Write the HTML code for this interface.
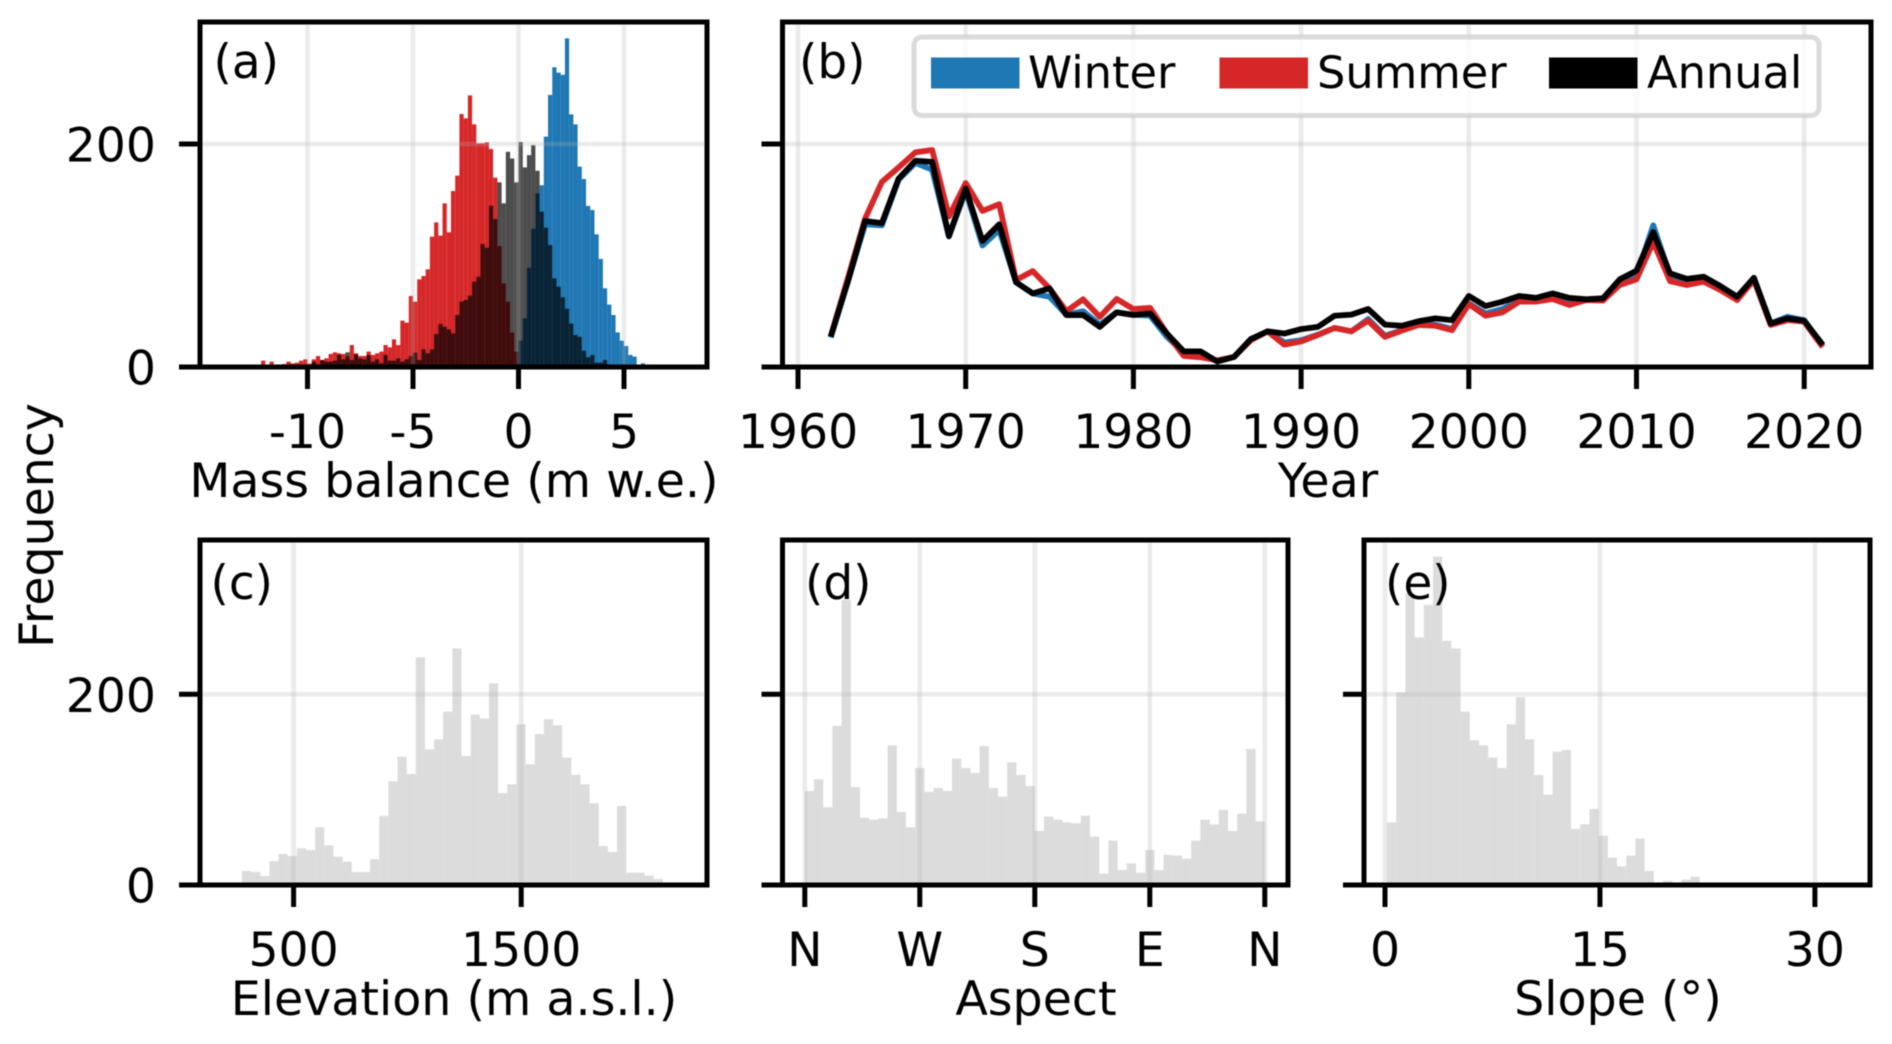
<!DOCTYPE html>
<html lang="en">
<head>
<meta charset="utf-8">
<title>Mass balance and glacier attribute distributions</title>
<style>
html,body{margin:0;padding:0;background:#fff;}
#figure{display:block;width:1892px;height:1044px;background:#fff;filter:blur(0.55px);}
text{font-family:"DejaVu Sans","Liberation Sans",sans-serif;fill:#000;}
</style>
</head>
<body>
<svg id="figure" xmlns="http://www.w3.org/2000/svg" width="1892" height="1044" viewBox="0 0 1892 1044">
<defs>
<clipPath id="clip-a"><rect x="200" y="22" width="507" height="345"/></clipPath>
<clipPath id="clip-b"><rect x="782.5" y="22" width="1088.5" height="345"/></clipPath>
<clipPath id="clip-c"><rect x="200" y="540" width="507" height="345"/></clipPath>
<clipPath id="clip-d"><rect x="782.5" y="540" width="505.5" height="345"/></clipPath>
<clipPath id="clip-e"><rect x="1364" y="540" width="506" height="345"/></clipPath>
</defs>
<g id="layer"></g>
</svg>
<script>
// ---- Panel (a): mass balance histograms, bins of 0.2 m w.e.
const massBinWidth = 0.2;
const winterFirstEdge = -1.4;
const winterCounts = [4.8,4.8,4.8,4.8,1.5,5.7,2,23.6,43.6,89,124,155.8,163,206.6,244,268.8,264,262,294.8,226.6,217.6,179.7,168.6,144.4,140.8,119,96.9,70.6,56,46.6,31,23.6,18.8,10.8,9.3,1.8,3.3];
const summerFirstEdge = -12.2;
const summerCounts = [5.7,1,4.8,1,1,2.7,4.8,3.3,3.9,5.7,6.9,3,6.9,9.9,6.3,7.8,11.7,13.2,12.3,11.7,9.3,19.7,12.3,9.9,9.9,13.8,10.8,12.3,13.8,19.7,17.6,24.8,19.7,41.6,39.8,63.7,58.6,78.6,81.6,87.6,116.9,129.7,117.8,146.8,120.8,157.8,171.6,226.9,223,243.6,217.6,200.6,200.6,201.5,195.5,169.8,108.5,75,58.6,30.8,13.8];
const annualFirstEdge = -9.8;
const annualCounts = [4.8,2.4,6.3,4.8,4.8,5.7,10.8,6.9,13.2,6.3,11.4,7.8,6.9,10.8,4.8,6.9,3.3,10.8,5.7,5.7,7.8,4.8,6.9,9.9,12.9,6.3,15.8,12.3,15.8,29.6,38.6,36.2,33.8,30.2,46.6,58.6,60.1,64,76.5,81,110.3,107,144.7,132.7,165.6,146.8,193,187,165.6,201.8,179,190,199,176,139.3,125,109.4,79.5,72,62.5,52.3,39,28.7,27,14.6,8.7,10.8,3.9,3.9,6.3,2.4];
const massTicks = [-10,-5,0,5];

// ---- Panel (b): glacier counts per year
const firstYear = 1962;
const winterByYear = [29,78,128,127,168,183,177,117,158,109,123,76,66,63,47,50,38,49,47,46,27,13,12,5,9,25,32,22,24,29,35,32,43,28,33,38,38,34,57,48,52,60,59,63,58,60,60,76,82,127,82,77,79,71,61,79,39,45,42,21];
const summerByYear = [30,81,133,166,179,192.5,194.6,135,165,140,146,78,86,70.5,50,60.7,45,61,52,53,30,10,8.7,6,9,24,32,20,23,28.7,35,32,41.5,27,32.6,37.7,37,33,56.5,46,49,58.6,58.6,61,55.6,60,59.5,73.5,78.6,112,77,73.5,76.5,69,60,78,37.7,42,40.7,20];
const annualByYear = [29.6,78,131,129,169,185,184,117.5,160,113,128,76,66,70.5,46.6,46.6,36,49,46.6,48,30,14,14,5,9,25,32,30,34,36,46,47,52,38,37,41,43.6,42,63.7,54.7,58.6,63.7,62,66,62,60.7,61.6,78.6,86.4,121,84,79,81,72.6,63,80,39,43.6,41.5,22];
const yearTicks = [1960,1970,1980,1990,2000,2010,2020];
const legendLabels = ['Winter','Summer','Annual'];

// ---- Panel (c): elevation histogram
const elevationFirstEdge = 273;
const elevationBinWidth = 40.2;
const elevationCounts = [14.7,13.6,9.4,25,32.5,30.4,38.5,36.7,60.5,41.6,29.7,24.5,13.6,13.6,27,72.4,108.7,134.6,116.4,238.8,142.3,152.8,181.8,248,135.3,178.7,174.5,211.5,96.5,105.6,168.5,126.6,158.4,173.8,167.5,133.6,115.4,105.6,85.7,40.9,34.6,82.9,13,13,9.8,6.3];
const elevationTicks = [500,1500];

// ---- Panel (d): aspect histogram
const aspectBinWidth = 7.2;
const aspectCounts = [98.6,110.8,81.5,166.8,299,102.8,70.6,68.5,69.9,146.5,76.6,60.5,122.7,97.6,101.7,98.6,132.5,122.7,117.5,145.8,101.7,92.7,128.7,115.4,103.8,56.6,71.7,68.5,65.7,64.7,72.7,50.7,11.9,46.5,15.7,22.7,12.9,36.7,15.7,31.5,30.8,27.6,46.5,68.5,63.6,78.7,56.6,74.8,142.7,66.8];
const aspectTicks = [0,90,180,270,360];
const aspectTickLabels = ['N','W','S','E','N'];

// ---- Panel (e): slope histogram
const slopeFirstEdge = 0.14;
const slopeBinWidth = 0.642;
const slopeCounts = [65.7,201.7,306,259.8,293.7,344.4,256,248,181.8,151.7,146.5,133.6,122.7,168.5,196.9,152.8,115.4,94.8,139.9,141.6,58.7,63.6,79.7,51.7,28.7,19.6,30.8,48.6,14.7,1,4.5,1.7,5.6,8.7,0.7,1];
const slopeTicks = [0,15,30];

const frequencyTicksTop = [0,200];
const frequencyTicksBottom = [0,200];

// ---- Axis functions
const xMass = v => 518.5 + 21.1 * v;
const xYear = v => 798 + 16.77 * (v - 1960);
const xElevation = v => 293.6 + 0.2276 * (v - 500);
const xAspect = v => 804.8 + (460 / 360) * v;
const xSlope = v => 1385 + 14.33 * v;
const yTop = v => 367 - 1.115 * v;
const yBottom = v => 885 - 0.9535 * v;

const SVG_NS = 'http://www.w3.org/2000/svg';
const layer = document.getElementById('layer');

function mk(tag, attrs, parent) {
  const node = document.createElementNS(SVG_NS, tag);
  for (const key in attrs) node.setAttribute(key, attrs[key]);
  parent.appendChild(node);
  return node;
}

function drawText(parent, str, x, y, size, anchor, label) {
  const el = mk('text', {x: x, y: y, 'font-size': size, 'text-anchor': anchor}, parent);
  
  
  el.textContent = str;
  return el;
}

function drawBars(parent, counts, firstEdge, binWidth, xs, ys, fill, alpha, label) {
  const group = mk('g', {fill: fill, 'fill-opacity': alpha}, parent);
  
  
  counts.forEach((count, i) => {
    const x0 = xs(firstEdge + i * binWidth);
    const x1 = xs(firstEdge + (i + 1) * binWidth);
    const bar = mk('rect', {x: x0, y: ys(count), width: x1 - x0, height: ys(0) - ys(count)}, group);
    
    
  });
}

function drawGrid(parent, xValues, yValue, xs, ys, box) {
  const group = mk('g', {stroke: '#b0b0b0', 'stroke-opacity': 0.25, 'stroke-width': 4.6, fill: 'none'}, parent);
  
  
  xValues.forEach(v => {
    const line = mk('line', {x1: xs(v), x2: xs(v), y1: box.top + 3, y2: box.bottom - 3}, group);
    
    
  });
  const h = mk('line', {x1: box.left + 3, x2: box.right - 3, y1: ys(yValue), y2: ys(yValue)}, group);
  
  
}

function drawFrame(parent, box, xValues, xLabels, xs, yValues, yLabels, ys, panel) {
  const group = mk('g', {stroke: '#000', 'stroke-width': 5, fill: 'none'}, parent);
  
  
  const spine = mk('rect', {x: box.left, y: box.top, width: box.right - box.left, height: box.bottom - box.top, 'stroke-linejoin': 'miter'}, group);
  
  
  xValues.forEach((v, i) => {
    const tick = mk('line', {x1: xs(v), x2: xs(v), y1: box.bottom, y2: box.bottom + 22}, group);
    
    
    drawText(parent, xLabels[i], xs(v), box.bottom + 81, 47.3, 'middle', panel + '-x-tick-label');
  });
  yValues.forEach(v => {
    const tick = mk('line', {x1: box.left - 21, x2: box.left, y1: ys(v), y2: ys(v)}, group);
    
    
    if (yLabels) {
      drawText(parent, String(v), 156, ys(v) + 17.5, 47.3, 'end', panel + '-y-tick-label');
    }
  });
}

const boxA = {left: 200, right: 707, top: 22, bottom: 367};
const boxB = {left: 782.5, right: 1871, top: 22, bottom: 367};
const boxC = {left: 200, right: 707, top: 540, bottom: 885};
const boxD = {left: 782.5, right: 1288, top: 540, bottom: 885};
const boxE = {left: 1364, right: 1870, top: 540, bottom: 885};

// Panel (a)
const panelA = mk('g', {}, layer);


const plotA = mk('g', {'clip-path': 'url(#clip-a)'}, panelA);
drawBars(plotA, winterCounts, winterFirstEdge, massBinWidth, xMass, yTop, '#1f77b4', 1, 'winter-mass-balance');
drawBars(plotA, summerCounts, summerFirstEdge, massBinWidth, xMass, yTop, '#d62728', 1, 'summer-mass-balance');
drawBars(plotA, annualCounts, annualFirstEdge, massBinWidth, xMass, yTop, '#000000', 0.7, 'annual-mass-balance');
drawGrid(plotA, massTicks, 200, xMass, yTop, boxA);
drawFrame(panelA, boxA, massTicks, massTicks.map(String), xMass, frequencyTicksTop, true, yTop, 'panel-a');
drawText(panelA, '(a)', 213.5, 78, 47, 'start', 'panel-a-letter');
drawText(panelA, 'Mass balance (m w.e.)', 454, 497, 47.5, 'middle', 'panel-a-x-axis-title');

// Panel (b)
const panelB = mk('g', {}, layer);


const plotB = mk('g', {'clip-path': 'url(#clip-b)'}, panelB);
drawGrid(plotB, yearTicks, 200, xYear, yTop, boxB);
function drawSeries(parent, values, color, label) {
  const d = values.map((v, i) => (i ? 'L' : 'M') + xYear(firstYear + i).toFixed(2) + ' ' + yTop(v).toFixed(2)).join(' ');
  const el = mk('path', {d: d, fill: 'none', stroke: color, 'stroke-width': 5.8, 'stroke-linejoin': 'round', 'stroke-linecap': 'square'}, parent);
  
  
}
drawSeries(plotB, winterByYear, '#1f77b4', 'winter-line');
drawSeries(plotB, summerByYear, '#d62728', 'summer-line');
drawSeries(plotB, annualByYear, '#000000', 'annual-line');
drawFrame(panelB, boxB, yearTicks, yearTicks.map(String), xYear, frequencyTicksTop, false, yTop, 'panel-b');
drawText(panelB, '(b)', 799, 78, 47, 'start', 'panel-b-letter');
drawText(panelB, 'Year', 1328, 497, 47.5, 'middle', 'panel-b-x-axis-title');

// Legend
const legend = mk('g', {}, panelB);


const legendBox = mk('rect', {x: 914, y: 37, width: 905, height: 78.5, rx: 8, ry: 8, fill: '#fff', 'fill-opacity': 0.8, stroke: '#cccccc', 'stroke-opacity': 0.7, 'stroke-width': 5}, legend);


const legendColors = ['#1f77b4', '#d62728', '#000000'];
const legendSwatchLeft = [931, 1219.5, 1549];
const legendTextLeft = [1028, 1317, 1647];
legendLabels.forEach((label, i) => {
  const swatch = mk('rect', {x: legendSwatchLeft[i], y: 57.5, width: 88.5, height: 31, fill: legendColors[i]}, legend);
  
  
  drawText(legend, label, legendTextLeft[i], 88, 44.7, 'start', 'legend-label');
});

// Panel (c)
const panelC = mk('g', {}, layer);


const plotC = mk('g', {'clip-path': 'url(#clip-c)'}, panelC);
drawBars(plotC, elevationCounts, elevationFirstEdge, elevationBinWidth, xElevation, yBottom, '#d3d3d3', 0.8, 'elevation');
drawGrid(plotC, elevationTicks, 200, xElevation, yBottom, boxC);
drawFrame(panelC, boxC, elevationTicks, elevationTicks.map(String), xElevation, frequencyTicksBottom, true, yBottom, 'panel-c');
drawText(panelC, '(c)', 210.5, 599, 47, 'start', 'panel-c-letter');
drawText(panelC, 'Elevation (m a.s.l.)', 454, 1015, 47.5, 'middle', 'panel-c-x-axis-title');

// Panel (d)
const panelD = mk('g', {}, layer);


const plotD = mk('g', {'clip-path': 'url(#clip-d)'}, panelD);
drawBars(plotD, aspectCounts, 0, aspectBinWidth, xAspect, yBottom, '#d3d3d3', 0.8, 'aspect');
drawGrid(plotD, aspectTicks, 200, xAspect, yBottom, boxD);
drawFrame(panelD, boxD, aspectTicks, aspectTickLabels, xAspect, frequencyTicksBottom, false, yBottom, 'panel-d');
drawText(panelD, '(d)', 805, 599, 47, 'start', 'panel-d-letter');
drawText(panelD, 'Aspect', 1036, 1015, 47.5, 'middle', 'panel-d-x-axis-title');

// Panel (e)
const panelE = mk('g', {}, layer);


const plotE = mk('g', {'clip-path': 'url(#clip-e)'}, panelE);
drawBars(plotE, slopeCounts, slopeFirstEdge, slopeBinWidth, xSlope, yBottom, '#d3d3d3', 0.8, 'slope');
drawGrid(plotE, slopeTicks, 200, xSlope, yBottom, boxE);
drawFrame(panelE, boxE, slopeTicks, slopeTicks.map(String), xSlope, frequencyTicksBottom, false, yBottom, 'panel-e');
drawText(panelE, '(e)', 1385, 599, 47, 'start', 'panel-e-letter');
drawText(panelE, 'Slope (°)', 1618, 1015, 47.5, 'middle', 'panel-e-x-axis-title');

// Shared y-axis title
const yTitle = mk('text', {x: 0, y: 0, 'font-size': 47.4, 'text-anchor': 'middle', transform: 'translate(53 525.5) rotate(-90)'}, layer);


yTitle.textContent = 'Frequency';
</script>
</body>
</html>
